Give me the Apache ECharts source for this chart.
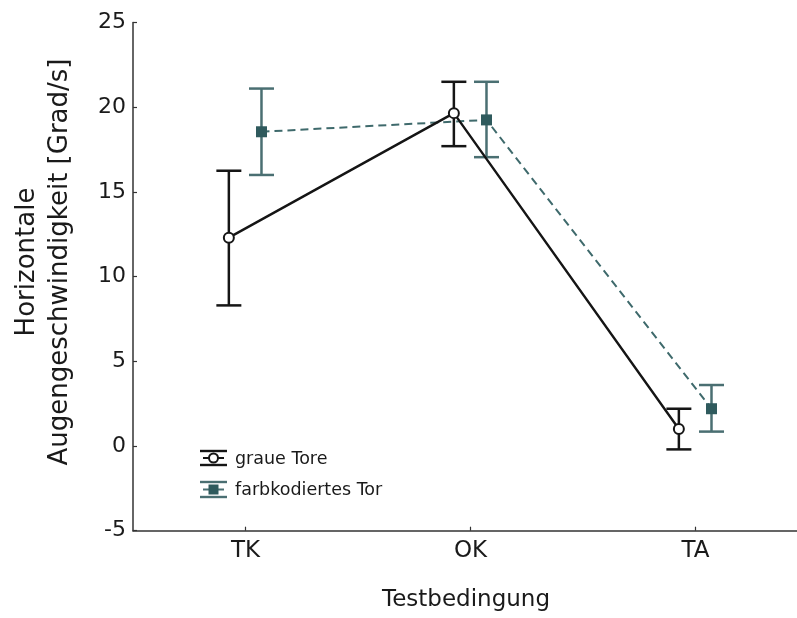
<!DOCTYPE html>
<html>
<head>
<meta charset="utf-8">
<script src="https://cdn.jsdelivr.net/npm/echarts@6/dist/echarts.min.js"></script>
<style>
  html, body { margin: 0; padding: 0; background: #fff; }
  #chart { width: 797px; height: 618px; }
</style>
</head>
<body>
<div id="chart"></div>
<script>
// Test conditions along the x axis
const categories = ['TK', 'OK', 'TA'];

// Grey gates: mean horizontal eye velocity with error range
const grayMean = [12.3, 19.65, 1.0];
const grayLow  = [8.3, 17.7, -0.2];
const grayHigh = [16.25, 21.5, 2.2];

// Colour-coded gate: mean with error range
const colorMean = [18.55, 19.25, 2.2];
const colorLow  = [16.0, 17.05, 0.85];
const colorHigh = [21.1, 21.5, 3.6];

// y axis range and step
const yMin = -5, yMax = 25, yStep = 5;

const FONT = 'DejaVu Sans';
const BLACK = '#151515';
const TEAL_DARK = '#2f5a5d';
const TEAL = '#4a6f72';

// horizontal offset of each group around its category
const grayShift = -0.074;
const colorShift = 0.071;

const grayPts = categories.map((c, i) => [i + grayShift, grayMean[i]]);
const colorPts = categories.map((c, i) => [i + colorShift, colorMean[i]]);
const grayErr = categories.map((c, i) => [i + grayShift, grayLow[i], grayHigh[i]]);
const colorErr = categories.map((c, i) => [i + colorShift, colorLow[i], colorHigh[i]]);

function errorBar(color, width) {
  return function (params, api) {
    const x = api.value(0);
    const lo = api.coord([x, api.value(1)]);
    const hi = api.coord([x, api.value(2)]);
    const half = 12.5;
    const style = { stroke: color, lineWidth: width };
    return {
      type: 'group',
      children: [
        { type: 'line', shape: { x1: lo[0], y1: lo[1], x2: hi[0], y2: hi[1] }, style },
        { type: 'line', shape: { x1: hi[0] - half, y1: hi[1], x2: hi[0] + half, y2: hi[1] }, style },
        { type: 'line', shape: { x1: lo[0] - half, y1: lo[1], x2: lo[0] + half, y2: lo[1] }, style }
      ]
    };
  };
}

const chart = echarts.init(document.getElementById('chart'), null, { renderer: 'canvas' });

const option = {
  backgroundColor: '#ffffff',
  animation: false,
  grid: { left: 133, right: 0, top: 22.5, bottom: 87.3, containLabel: false, outerBoundsMode: 'none' },
  xAxis: {
    type: 'value',
    min: -0.5,
    max: 2.451,
    splitLine: { show: false },
    axisLine: { show: true, onZero: false, lineStyle: { color: '#333', width: 1.5 } },
    axisTick: { show: true, inside: true, length: 4, customValues: [0, 1, 2], lineStyle: { color: '#333', width: 1.2 } },
    axisLabel: {
      show: true,
      customValues: [0, 1, 2],
      formatter: v => categories[Math.round(v)],
      fontFamily: FONT, fontSize: 23, color: '#1a1a1a', margin: 9
    }
  },
  yAxis: {
    type: 'value',
    min: yMin, max: yMax, interval: yStep,
    splitLine: { show: false },
    axisLine: { show: true, onZero: false, lineStyle: { color: '#333', width: 1.5 } },
    axisTick: { show: true, inside: true, length: 4, lineStyle: { color: '#333', width: 1.2 } },
    axisLabel: { fontFamily: FONT, fontSize: 22, color: '#1a1a1a', margin: 7 }
  },
  series: [
    {
      type: 'custom', name: 'graue Tore Fehler', renderItem: errorBar(BLACK, 2.5),
      data: grayErr, encode: { x: 0, y: [1, 2] }, z: 2, silent: true
    },
    {
      type: 'custom', name: 'farbkodiertes Tor Fehler', renderItem: errorBar(TEAL, 2.5),
      data: colorErr, encode: { x: 0, y: [1, 2] }, z: 2, silent: true
    },
    {
      type: 'line', name: 'farbkodiertes Tor', data: colorPts, z: 3,
      symbol: 'rect', symbolSize: 11, showAllSymbol: true,
      lineStyle: { color: '#3f6a6c', width: 2, type: [8, 5] },
      itemStyle: { color: TEAL_DARK, borderWidth: 0 }
    },
    {
      type: 'line', name: 'graue Tore', data: grayPts, z: 4,
      symbol: 'circle', symbolSize: 10, showAllSymbol: true,
      lineStyle: { color: BLACK, width: 2.4 },
      itemStyle: { color: '#ffffff', borderColor: BLACK, borderWidth: 2 }
    }
  ],
  graphic: [
    // y axis title (two lines, rotated)
    {
      type: 'text', x: 27, y: 262, rotation: Math.PI / 2,
      style: { text: 'Horizontale', font: '26px "DejaVu Sans"', fill: '#1a1a1a', align: 'center', verticalAlign: 'middle' }
    },
    {
      type: 'text', x: 60, y: 262, rotation: Math.PI / 2,
      style: { text: 'Augengeschwindigkeit [Grad/s]', font: '26px "DejaVu Sans"', fill: '#1a1a1a', align: 'center', verticalAlign: 'middle' }
    },
    // x axis title
    {
      type: 'text', x: 466, y: 600,
      style: { text: 'Testbedingung', font: '23px "DejaVu Sans"', fill: '#1a1a1a', align: 'center', verticalAlign: 'middle' }
    },
    // legend: grey gates
    {
      type: 'group', x: 200, y: 451,
      children: [
        { type: 'line', shape: { x1: 0, y1: 0, x2: 27, y2: 0 }, style: { stroke: BLACK, lineWidth: 2.4 } },
        { type: 'line', shape: { x1: 0, y1: 14, x2: 27, y2: 14 }, style: { stroke: BLACK, lineWidth: 2.4 } },
        { type: 'line', shape: { x1: 3, y1: 7, x2: 24, y2: 7 }, style: { stroke: BLACK, lineWidth: 2 } },
        { type: 'circle', shape: { cx: 13.5, cy: 7, r: 4.5 }, style: { fill: '#fff', stroke: BLACK, lineWidth: 2 } },
        { type: 'text', x: 35, y: 8, style: { text: 'graue Tore', font: '17.5px "DejaVu Sans"', fill: '#1a1a1a', verticalAlign: 'middle' } }
      ]
    },
    // legend: colour-coded gate
    {
      type: 'group', x: 200, y: 482,
      children: [
        { type: 'line', shape: { x1: 0, y1: 0, x2: 27, y2: 0 }, style: { stroke: TEAL, lineWidth: 2.4 } },
        { type: 'line', shape: { x1: 0, y1: 15, x2: 27, y2: 15 }, style: { stroke: TEAL, lineWidth: 2.4 } },
        { type: 'line', shape: { x1: 3, y1: 7.5, x2: 24, y2: 7.5 }, style: { stroke: TEAL, lineWidth: 2 } },
        { type: 'rect', shape: { x: 8.5, y: 2.5, width: 10, height: 10 }, style: { fill: TEAL_DARK } },
        { type: 'text', x: 35, y: 8, style: { text: 'farbkodiertes Tor', font: '17.5px "DejaVu Sans"', fill: '#1a1a1a', verticalAlign: 'middle' } }
      ]
    }
  ]
};

chart.setOption(option);
</script>
</body>
</html>
